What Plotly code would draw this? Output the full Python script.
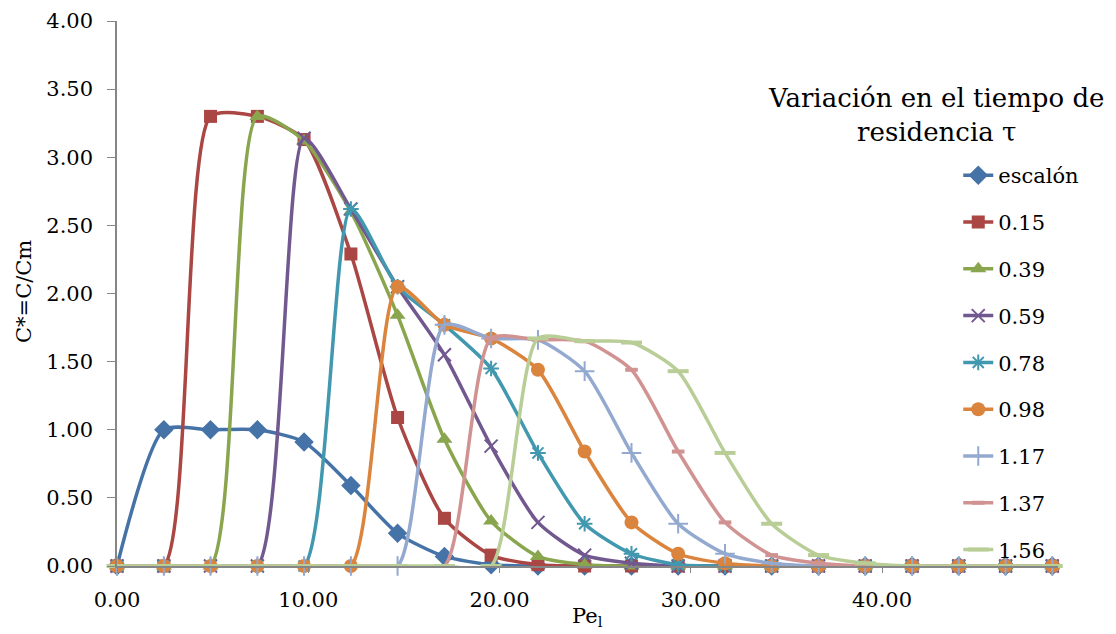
import plotly.graph_objects as go

pe = [0.00, 2.45, 4.89, 7.34, 9.78, 12.23, 14.67, 17.12, 19.56, 22.01, 24.45,
      26.90, 29.34, 31.79, 34.23, 36.68, 39.12, 41.57, 44.01, 46.46, 48.90]

series_names = ["escalón", "0.15", "0.39", "0.59", "0.78", "0.98", "1.17", "1.37", "1.56"]

escalon = [0, 1.00, 1.00, 1.00, 0.91, 0.59, 0.24, 0.07, 0.01, 0, 0, 0, 0, 0, 0, 0, 0, 0, 0, 0, 0]
t015 = [0, 0, 3.30, 3.30, 3.13, 2.29, 1.09, 0.35, 0.08, 0.01, 0, 0, 0, 0, 0, 0, 0, 0, 0, 0, 0]
t039 = [0, 0, 0, 3.30, 3.12, 2.60, 1.84, 0.93, 0.33, 0.07, 0.01, 0, 0, 0, 0, 0, 0, 0, 0, 0, 0]
t059 = [0, 0, 0, 0, 3.14, 2.62, 2.05, 1.55, 0.88, 0.32, 0.08, 0.02, 0, 0, 0, 0, 0, 0, 0, 0, 0]
t078 = [0, 0, 0, 0, 0, 2.62, 2.05, 1.77, 1.45, 0.83, 0.31, 0.09, 0.01, 0, 0, 0, 0, 0, 0, 0, 0]
t098 = [0, 0, 0, 0, 0, 0, 2.05, 1.77, 1.67, 1.44, 0.84, 0.32, 0.09, 0.02, 0, 0, 0, 0, 0, 0, 0]
t117 = [0, 0, 0, 0, 0, 0, 0, 1.77, 1.67, 1.66, 1.43, 0.83, 0.31, 0.09, 0.02, 0, 0, 0, 0, 0, 0]
t137 = [0, 0, 0, 0, 0, 0, 0, 0, 1.67, 1.66, 1.65, 1.44, 0.84, 0.32, 0.08, 0.02, 0, 0, 0, 0, 0]
t156 = [0, 0, 0, 0, 0, 0, 0, 0, 0, 1.67, 1.65, 1.64, 1.43, 0.83, 0.31, 0.08, 0.02, 0, 0, 0, 0]

x_tick_vals = [0, 10, 20, 30, 40]
x_tick_text = ["0.00", "10.00", "20.00", "30.00", "40.00"]
y_tick_vals = [0, 0.5, 1.0, 1.5, 2.0, 2.5, 3.0, 3.5, 4.0]
y_tick_text = ["0.00", "0.50", "1.00", "1.50", "2.00", "2.50", "3.00", "3.50", "4.00"]

all_series = [escalon, t015, t039, t059, t078, t098, t117, t137, t156]
colors = ["#4573A7", "#AA4643", "#89A54E", "#71588F", "#4198AF",
          "#DB843D", "#93A9CF", "#D19392", "#B9CD96"]
symbols = ["diamond", "square", "triangle-up", "x-thin", "asterisk",
           "circle", "cross-thin", "line-ew", "line-ew"]
sizes = [15, 13, 14, 13, 13, 14, 14, 9, 15]

FONT = "DejaVu Serif"

fig = go.Figure()
for i, (name, vals) in enumerate(zip(series_names, all_series)):
    thin = symbols[i] in ("x-thin", "asterisk", "cross-thin", "line-ew")
    marker = dict(symbol=symbols[i], size=sizes[i], color=colors[i])
    if thin:
        marker["line"] = dict(color=colors[i], width=2 if symbols[i] != "line-ew" else 4)
    fig.add_trace(go.Scatter(
        x=pe, y=vals, name=name, mode="lines+markers", cliponaxis=False,
        line=dict(color=colors[i], width=3.5, shape="spline", smoothing=0.65),
        marker=marker, legendgroup=name,
    ))

fig.update_layout(
    width=1116, height=634,
    margin=dict(l=117, r=58, t=21, b=68),
    paper_bgcolor="white", plot_bgcolor="white",
    font=dict(family=FONT, size=21, color="black"),
    showlegend=True,
    legend=dict(
        x=0.894, y=0.754, xanchor="left", yanchor="top",
        bgcolor="rgba(0,0,0,0)", font=dict(family=FONT, size=21),
        tracegroupgap=16.5,
    ),
    annotations=[
        dict(text="Variación en el tiempo de<br>residencia τ",
             xref="paper", yref="paper", x=0.870, y=(566 - 115) / 545,
             xanchor="center", yanchor="middle", showarrow=False, align="center",
             font=dict(family=FONT, size=26, color="black")),
        dict(text="Pe<sub>l</sub>", xref="paper", yref="paper",
             x=0.5, y=(566 - 617) / 545, xanchor="center", yanchor="middle",
             showarrow=False, font=dict(family=FONT, size=21, color="black")),
        dict(text="C*=C/Cm", xref="paper", yref="paper", textangle=-90,
             x=(24 - 117) / 941, y=(566 - 292) / 545, xanchor="center", yanchor="middle",
             showarrow=False, font=dict(family=FONT, size=21, color="black")),
    ],
)

fig.update_xaxes(
    range=[0, 49.2], tickvals=x_tick_vals, ticktext=x_tick_text, automargin=False,
    showgrid=False, zeroline=False, showline=True, linecolor="#868686", linewidth=1.5,
    ticks="outside", ticklen=5, tickcolor="#868686", ticklabelstandoff=9,
)
fig.update_yaxes(
    range=[0, 4.0], tickvals=y_tick_vals, ticktext=y_tick_text, automargin=False,
    showgrid=False, zeroline=False, showline=True, linecolor="#868686", linewidth=1.5,
    ticks="outside", ticklen=8, tickcolor="#868686", ticklabelstandoff=10,
)

fig.write_html("out.html")
